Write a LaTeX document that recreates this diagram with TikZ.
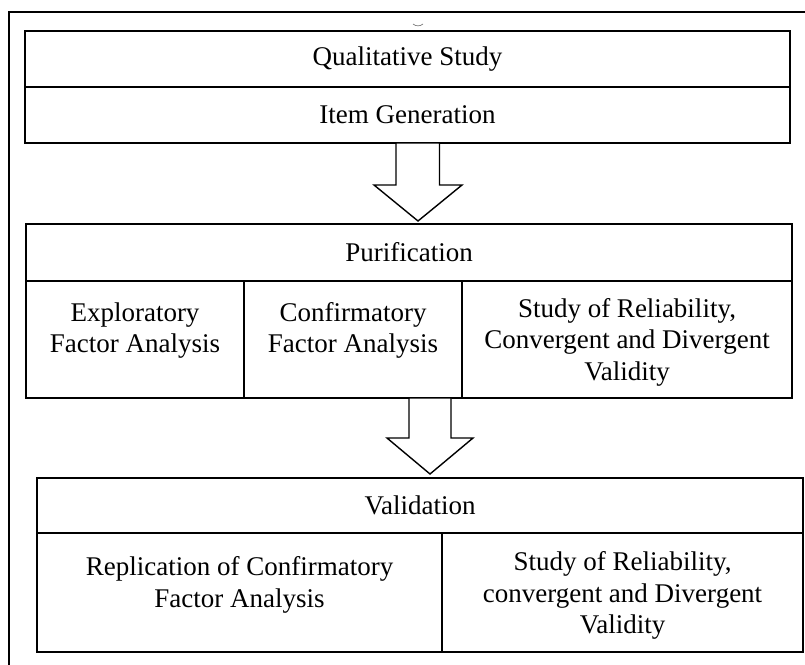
\documentclass[tikz,border=0pt]{standalone}
\usepackage{fontspec}
\setmainfont{Liberation Serif}
\begin{document}
\begin{tikzpicture}[x=1pt,y=-1pt,
  cell/.style={draw, line width=1.4pt, rectangle, inner sep=0pt, outer sep=0pt,
    font=\fontsize{27}{31.5}\selectfont},
  lbl/.style={font=\fontsize{27}{31.5}\selectfont, align=center, inner sep=0pt},
  divider/.style={line width=2.4pt},
  blockarrow/.style={draw, line width=1.4pt, fill=white, line join=miter}]
\useasboundingbox (0,0) rectangle (805,664);
% outer frame
\draw[line width=1.4pt] (805,12) -- (9,12) -- (9,670);
% small mark
\draw[line width=0.6pt, black!60] (413,24) .. controls (416,26.5) and (420,26.5) .. (423,24);
% top block
\node[cell, minimum width=765pt, minimum height=56pt] (qual) at (407.5,59) {Qualitative Study};
\node[cell, minimum width=765pt, minimum height=56pt] (item) at (407.5,115) {Item Generation};
\draw[divider] (qual.south west) -- (qual.south east);
% purification block
\node[cell, minimum width=766pt, minimum height=57pt] (purif) at (409,252.5) {Purification};
\node[cell, minimum width=218pt, minimum height=117pt] (efa) at (135,339.5) {};
\node[cell, minimum width=218pt, minimum height=117pt] (cfa) at (353,339.5) {};
\node[cell, minimum width=330pt, minimum height=117pt] (rel) at (627,339.5) {};
\draw[divider] (purif.south west) -- (purif.south east);
\node[lbl] (efat) at ([yshift=9pt]efa.center) {Exploratory\\Factor Analysis};
\node[lbl] (cfat) at ([yshift=9pt]cfa.center) {Confirmatory\\Factor Analysis};
\node[lbl] (relt) at ([yshift=-2.5pt]rel.center) {Study of Reliability,\\Convergent and Divergent\\Validity};
% validation block
\node[cell, minimum width=766pt, minimum height=55pt] (valid) at (420,505.5) {Validation};
\node[cell, minimum width=405pt, minimum height=119pt] (rep) at (239.5,592.5) {};
\node[cell, minimum width=361pt, minimum height=119pt] (rel2) at (622.5,592.5) {};
\draw[divider] (valid.south west) -- (valid.south east);
\node[lbl] (rept) at ([yshift=7.5pt]rep.center) {Replication of Confirmatory\\Factor Analysis};
\node[lbl] (rel2t) at ([yshift=-3pt]rel2.center) {Study of Reliability,\\convergent and Divergent\\Validity};
% block arrows
\coordinate (a1top) at (417.5,143);
\coordinate (a1tip) at (418,221);
\draw[blockarrow] (a1top) ++(-21.5,0) -- ++(0,42) -- ++(-22,0) -- (a1tip) -- ++(44,-36) -- ++(-22.5,0) -- ++(0,-42) -- cycle;
\coordinate (a2top) at (430,398);
\coordinate (a2tip) at (430,474);
\draw[blockarrow] (a2top) ++(-21,0) -- ++(0,40) -- ++(-22,0) -- (a2tip) -- ++(43,-36) -- ++(-22,0) -- ++(0,-40) -- cycle;
\end{tikzpicture}
\end{document}
